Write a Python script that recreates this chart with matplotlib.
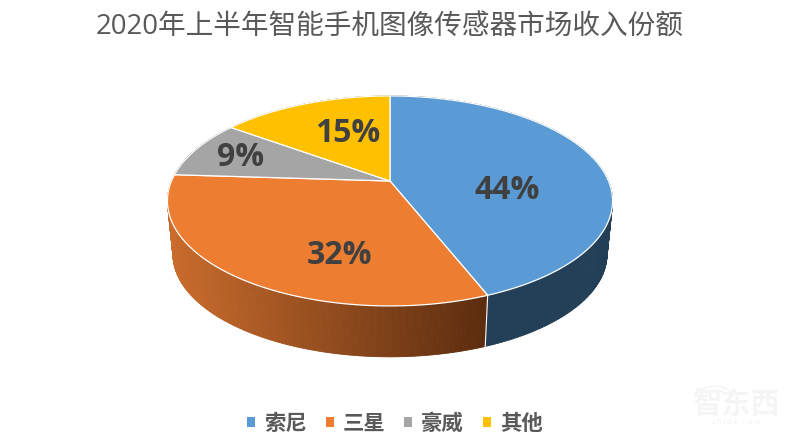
import numpy as np
import matplotlib
matplotlib.use("Agg")
import matplotlib.pyplot as plt
from matplotlib.collections import PolyCollection
from matplotlib.colors import to_rgb
from matplotlib.patches import Arc, Patch, Polygon

title = "2020年上半年智能手机图像传感器市场收入份额"
categories = ["索尼", "三星", "豪威", "其他"]
shares = [44, 32, 9, 15]

top_colors = ["#5B9BD5", "#ED7D31", "#A5A5A5", "#FFC000"]
side_left = ["#223F57", "#CA6C2C", "#636363", "#997300"]
side_right = ["#223F57", "#5B2C0E", "#636363", "#997300"]
text_fonts = ["Open Sans", "Noto Sans CJK SC", "DejaVu Sans"]

# perspective of the pie disc, in pixels of the 800x443 canvas
CX, CY = 390, 181
A, B, K = 218.5, 101.2, 0.19
LOWER_CY, LOWER_SCALE = 235, 0.975


def project(frac, cy=CY, scale=1.0):
    """Map pie fraction (clockwise from 12 o'clock) onto the tilted disc."""
    theta = 2 * np.pi * np.asarray(frac)
    u, v = np.sin(theta), np.cos(theta)
    d = 1 + K * v
    return CX + scale * A * u / d, cy - scale * B * v / d


def mix(c1, c2, t):
    return tuple((1 - t) * a + t * b for a, b in zip(to_rgb(c1), to_rgb(c2)))


fig = plt.figure(figsize=(8, 4.43), dpi=100)
ax = fig.add_axes([0, 0, 1, 1])
ax.set_xlim(0, 800)
ax.set_ylim(443, 0)
ax.axis("off")

edges = np.cumsum([0] + shares) / sum(shares)

# side wall first, the top face covers what is hidden
for i in range(len(shares)):
    f = np.linspace(edges[i], edges[i + 1], 201)
    xt, yt = project(f)
    xb, yb = project(f, LOWER_CY, LOWER_SCALE)
    xlo, xhi = min(xt.min(), xb.min()), max(xt.max(), xb.max())
    quads, cols = [], []
    for j in range(len(f) - 1):
        quads.append([(xt[j], yt[j]), (xt[j + 1], yt[j + 1]),
                      (xb[j + 1], yb[j + 1]), (xb[j], yb[j])])
        cols.append(mix(side_left[i], side_right[i], (xt[j] - xlo) / (xhi - xlo)))
    ax.add_collection(PolyCollection(quads, facecolors=cols, edgecolors=cols,
                                     linewidths=0.6, zorder=2))
    # white seam between neighbouring walls
    ax.plot([xt[0], xb[0]], [yt[0], yb[0]], color="white", lw=0.8, zorder=3)

# top face
for i in range(len(shares)):
    f = np.linspace(edges[i], edges[i + 1], 201)
    xt, yt = project(f)
    pts = np.column_stack([np.r_[CX, xt], np.r_[CY, yt]])
    ax.add_patch(Polygon(pts, closed=True, facecolor=top_colors[i],
                         edgecolor="white", linewidth=0.9, zorder=4))

# data labels
label_x = [507, 339, 241, 348]
label_y = [190, 256, 158, 134]
for x, y, s in zip(label_x, label_y, shares):
    ax.text(x, y, f"{s}%", ha="center", va="center", fontsize=23,
            fontweight="bold", color="#404040", family=text_fonts, zorder=5)

ax.text(390, 28, title, ha="center", va="center", fontsize=19.9,
        color="#595959", family=text_fonts)

handles = [Patch(facecolor=c, edgecolor="none") for c in top_colors]
leg = ax.legend(handles, categories, ncol=4, loc="center",
                bbox_to_anchor=(395 / 800, 1 - 424 / 443), frameon=False,
                prop={"family": text_fonts, "size": 15.4, "weight": "bold"},
                labelcolor="#595959", handlelength=0.37, handleheight=0.37,
                handletextpad=0.42, columnspacing=0.88, borderpad=0)

# faint site watermark
ax.text(736, 405, "智东西", ha="center", va="center", fontsize=21,
        color="#F5F5F5", family=text_fonts, fontweight="bold")
ax.text(736, 423, "z h i d x . c o m", ha="center", va="center", fontsize=5,
        color="#EFEFEF", family=text_fonts)
for w in (22, 36):
    ax.add_patch(Arc((715, 397), w, w * 0.6, theta1=200, theta2=340,
                     color="#F5F5F5", lw=1.2))

fig.savefig("out.png", dpi=100)
